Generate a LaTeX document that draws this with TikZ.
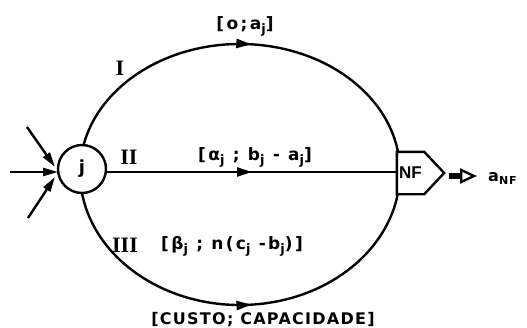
\documentclass[tikz,border=0pt]{standalone}
\usepackage{fontspec}
\setmainfont{DejaVu Sans}
\newfontfamily\lett[LetterSpace=8]{DejaVu Sans}
\newfontfamily\lettw[LetterSpace=14]{DejaVu Sans}
\newfontfamily\romfont{Liberation Serif}
\newfontfamily\nffont{Liberation Sans}
\usetikzlibrary{arrows.meta,decorations.markings}
\newcommand{\sj}[1]{\raisebox{-0.45ex}{\fontsize{13}{13}\selectfont #1}}
\begin{document}
\begin{tikzpicture}[x=1pt,y=-1pt,line width=2.4pt,
  lbl/.style={font=\lett\bfseries\fontsize{16}{16}\selectfont,inner sep=0pt,anchor=base},
  lblw/.style={font=\lettw\bfseries\fontsize{17}{17}\selectfont,inner sep=0pt,anchor=base},
  rom/.style={font=\romfont\bfseries\fontsize{22}{22}\selectfont,inner sep=0pt},
  midarrow/.style={postaction={decorate},decoration={markings,mark=at position #1 with {\arrow{Triangle[length=15pt,width=9pt]}}}},
  intip/.style={-{Triangle[length=15pt,width=8pt]}}]
\useasboundingbox (0,0) rectangle (527,327);
% arcs I and III
\draw[midarrow=0.53] (240,172) ++(188:160 and 128) arc[start angle=188,end angle=351,x radius=160,y radius=128];
\draw[midarrow=0.53] (240,172) ++(172:160 and 133) arc[start angle=172,end angle=9,x radius=160,y radius=133];
% node j
\node[circle,draw,fill=white,minimum size=48pt,inner sep=0pt,font=\bfseries\fontsize{18}{18}\selectfont] (j) at (82,169) {j};
% node NF
\node[minimum width=25pt,minimum height=40pt,inner sep=0pt,font=\nffont\bfseries\fontsize{17}{17}\selectfont] (nf) at (410.5,173) {NF};
\draw (nf.north west) -- (nf.north east) -- ([xshift=20pt]nf.east) -- (nf.south east) -- (nf.south west) -- cycle;
% arc II
\coordinate (lvl) at (0,172);
\draw[midarrow=0.5] (j.east |- lvl) -- (nf.west |- lvl);
% incoming
\coordinate (s1) at (27,127); \coordinate (e1) at (55,167);
\coordinate (s2) at (10,172); \coordinate (e2) at (58,172);
\coordinate (s3) at (28,218); \coordinate (e3) at (55,177);
\draw[intip] (s1) -- (e1);
\draw[intip] (s2) -- (e2);
\draw[intip] (s3) -- (e3);
% output
\coordinate (o1) at (449,176); \coordinate (o2) at (477,176);
\draw[line width=6pt,-{Triangle[open,line width=2.4pt,length=17pt,width=15pt]}] (o1) -- (o2);
\node[lbl,anchor=base west,font=\lett\bfseries\fontsize{16}{16}\selectfont] (anf) at (487,181) {a\raisebox{-0.45ex}{\fontsize{11}{11}\selectfont NF}};
% labels
\node[lblw] (l1) at (245,29) {[o;a\sj{j}]};
\node[rom] (r1) at (120,68) {I};
\node[rom] (r2) at (129,157) {II};
\node[lblw] (l2) at (255,160) {[α\sj{j} ; b\sj{j} - a\sj{j}]};
\node[rom] (r3) at (125,245) {III};
\node[lblw] (l3) at (232,249) {[β\sj{j} ; n(c\sj{j} -b\sj{j})]};
\node[lbl] (l4) at (263,324) {[CUSTO; CAPACIDADE]};
\end{tikzpicture}
\end{document}
